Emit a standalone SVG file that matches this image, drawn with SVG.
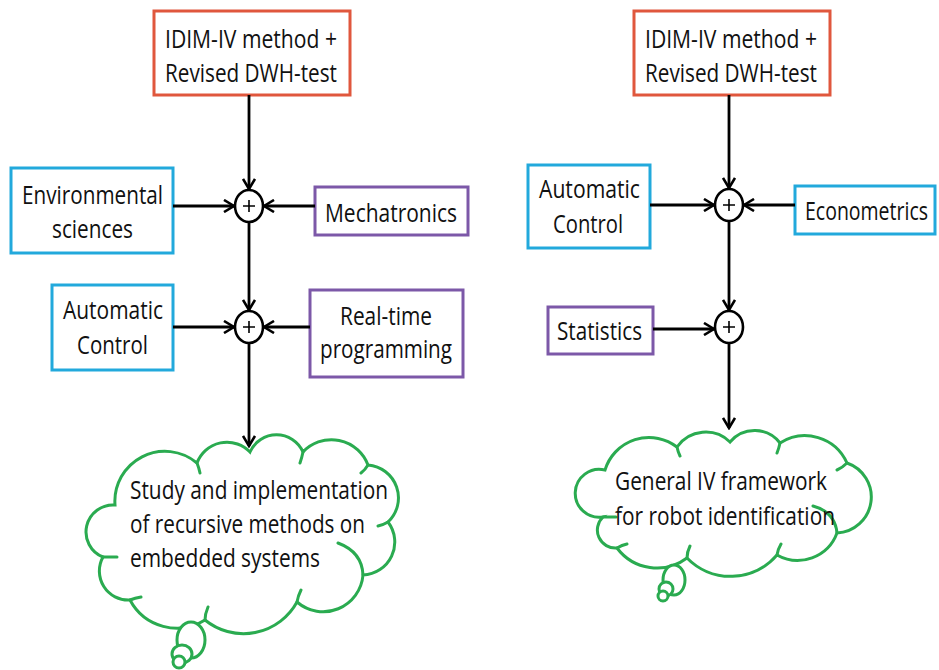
<svg xmlns="http://www.w3.org/2000/svg" width="939" height="670" viewBox="0 0 939 670">
<defs>
<style>
.box{fill:#fff;stroke-width:3}
.red{stroke:#e0573d}
.blue{stroke:#22a9dc}
.purple{stroke:#7c58a8}
.t{font-family:"Open Sans","Liberation Sans",sans-serif;font-size:26px;fill:#111}
.cloud{fill:#fff;stroke:#2aab50;stroke-width:3;stroke-linecap:round}
.tick{fill:none;stroke:#2aab50;stroke-width:3;stroke-linecap:round}
.con{fill:none;stroke:#000;stroke-width:2.8}
.sum{fill:#fff;stroke:#000;stroke-width:2.6}
.plus{stroke:#000;stroke-width:1.6}
</style>
<marker id="ah" viewBox="0 0 14 14" refX="12" refY="7" markerWidth="14" markerHeight="14" markerUnits="userSpaceOnUse" orient="auto">
<path d="M2,1 L12,7 L2,13" fill="none" stroke="#000" stroke-width="2.6"/>
</marker>
</defs>
<rect width="939" height="670" fill="#fff"/>

<g id="cloud-left">
<path class="cloud" d="M115,505 A50,50 0 0 1 197,463 A32,32 0 0 1 250,452 A29,29 0 0 1 303,452 A39,39 0 0 1 368,465 A33,33 0 0 1 388,522 A33,33 0 0 1 363,575 A40,40 0 0 1 297,602 A61,61 0 0 1 205,620 A53,53 0 0 1 130,600 A29,29 0 0 1 103,557 A27,27 0 0 1 115,505 Z"/>
<path class="tick" d="M197,463 Q199,468 200,473 M303,452 Q302,457 300,463 M368,465 Q365,470 361,473 M388,522 Q383,525 378,526 M363,575 Q362,552 338,543 M297,602 Q298,596 301,590 M205,620 Q205,614 208,607 M130,600 Q135,598 141,597 M103,557 L117,557"/>
<ellipse class="cloud" cx="191" cy="640" rx="14" ry="18"/>
<ellipse class="cloud" cx="182" cy="654" rx="10" ry="9"/>
<ellipse class="cloud" cx="179" cy="662" rx="6" ry="6"/>
<text class="t" x="130" y="499" textLength="258" lengthAdjust="spacingAndGlyphs">Study and implementation</text>
<text class="t" x="130" y="533" textLength="235" lengthAdjust="spacingAndGlyphs">of recursive methods on</text>
<text class="t" x="130" y="567" textLength="190" lengthAdjust="spacingAndGlyphs">embedded systems</text>
</g>

<g id="cloud-right">
<path class="cloud" d="M605,470 A46,46 0 0 1 677,447 A35,35 0 0 1 730,442 A32,32 0 0 1 780,443 A46,46 0 0 1 847,463 A36,36 0 0 1 837,533 A42,42 0 0 1 777,555 A61,61 0 0 1 687,558 A50,50 0 0 1 617,548 A18,18 0 0 1 603,517 A24,24 0 1 1 605,470 Z"/>
<path class="tick" d="M677,447 Q678,452 680,456 M780,443 Q779,448 777,453 M847,463 Q842,468 837,470 M837,533 Q835,512 813,506 M777,555 Q778,549 781,544 M687,558 Q687,552 690,546 M617,548 Q622,545 627,544 M603,517 L616,517"/>
<ellipse class="cloud" cx="674" cy="580" rx="11" ry="15"/>
<ellipse class="cloud" cx="666" cy="589" rx="7" ry="7"/>
<ellipse class="cloud" cx="663" cy="596" rx="5" ry="5"/>
<text class="t" x="615" y="490" textLength="212" lengthAdjust="spacingAndGlyphs">General IV framework</text>
<text class="t" x="615" y="525" textLength="220" lengthAdjust="spacingAndGlyphs">for robot identification</text>
</g>

<g id="idim-left">
<rect class="box red" x="154" y="11" width="196" height="84"/>
<text class="t" x="165" y="48" textLength="172" lengthAdjust="spacingAndGlyphs">IDIM-IV method +</text>
<text class="t" x="165" y="82" textLength="172" lengthAdjust="spacingAndGlyphs">Revised DWH-test</text>
</g>
<g id="env-sciences">
<rect class="box blue" x="11" y="168" width="162" height="85"/>
<text class="t" x="22" y="204" textLength="141" lengthAdjust="spacingAndGlyphs">Environmental</text>
<text class="t" x="52" y="238" textLength="81" lengthAdjust="spacingAndGlyphs">sciences</text>
</g>
<g id="mechatronics">
<rect class="box purple" x="315" y="187" width="153" height="48"/>
<text class="t" x="325" y="222" textLength="132" lengthAdjust="spacingAndGlyphs">Mechatronics</text>
</g>
<g id="auto-left">
<rect class="box blue" x="52" y="285" width="121" height="85"/>
<text class="t" x="63" y="319" textLength="100" lengthAdjust="spacingAndGlyphs">Automatic</text>
<text class="t" x="77" y="354" textLength="71" lengthAdjust="spacingAndGlyphs">Control</text>
</g>
<g id="realtime">
<rect class="box purple" x="310" y="290" width="153" height="87"/>
<text class="t" x="340" y="325" textLength="92" lengthAdjust="spacingAndGlyphs">Real-time</text>
<text class="t" x="320" y="358" textLength="132" lengthAdjust="spacingAndGlyphs">programming</text>
</g>
<g id="sum-left-1">
<ellipse class="sum" cx="249" cy="206" rx="14" ry="16"/>
<path class="plus" d="M243,206 H255 M249,200 V212"/>
</g>
<g id="sum-left-2">
<ellipse class="sum" cx="249" cy="327" rx="14" ry="16"/>
<path class="plus" d="M243,327 H255 M249,321 V333"/>
</g>

<g id="idim-right">
<rect class="box red" x="634" y="11" width="196" height="84"/>
<text class="t" x="645" y="48" textLength="172" lengthAdjust="spacingAndGlyphs">IDIM-IV method +</text>
<text class="t" x="645" y="82" textLength="172" lengthAdjust="spacingAndGlyphs">Revised DWH-test</text>
</g>
<g id="auto-right">
<rect class="box blue" x="528" y="165" width="122" height="83"/>
<text class="t" x="539" y="198" textLength="101" lengthAdjust="spacingAndGlyphs">Automatic</text>
<text class="t" x="553" y="233" textLength="70" lengthAdjust="spacingAndGlyphs">Control</text>
</g>
<g id="econometrics">
<rect class="box blue" x="795" y="186" width="140" height="48"/>
<text class="t" transform="translate(805,220) scale(0.75,1)" x="0" y="0">Econometrics</text>
</g>
<g id="statistics">
<rect class="box purple" x="548" y="307" width="105" height="47"/>
<text class="t" x="557" y="340" textLength="85" lengthAdjust="spacingAndGlyphs">Statistics</text>
</g>
<g id="sum-right-1">
<ellipse class="sum" cx="729" cy="205" rx="14" ry="16"/>
<path class="plus" d="M723,205 H735 M729,199 V211"/>
</g>
<g id="sum-right-2">
<ellipse class="sum" cx="729" cy="327" rx="14" ry="16"/>
<path class="plus" d="M723,327 H735 M729,321 V333"/>
</g>

<g id="connectors">
<line class="con" x1="249" y1="95" x2="249" y2="189" marker-end="url(#ah)"/>
<line class="con" x1="173" y1="206" x2="234" y2="206" marker-end="url(#ah)"/>
<line class="con" x1="315" y1="206" x2="264" y2="206" marker-end="url(#ah)"/>
<line class="con" x1="249" y1="222" x2="249" y2="310" marker-end="url(#ah)"/>
<line class="con" x1="173" y1="327" x2="234" y2="327" marker-end="url(#ah)"/>
<line class="con" x1="310" y1="327" x2="264" y2="327" marker-end="url(#ah)"/>
<line class="con" x1="249" y1="343" x2="249" y2="446" marker-end="url(#ah)"/>
<line class="con" x1="729" y1="95" x2="729" y2="188" marker-end="url(#ah)"/>
<line class="con" x1="650" y1="205" x2="714" y2="205" marker-end="url(#ah)"/>
<line class="con" x1="795" y1="205" x2="744" y2="205" marker-end="url(#ah)"/>
<line class="con" x1="729" y1="221" x2="729" y2="310" marker-end="url(#ah)"/>
<line class="con" x1="653" y1="329" x2="714" y2="329" marker-end="url(#ah)"/>
<line class="con" x1="729" y1="343" x2="729" y2="428" marker-end="url(#ah)"/>
</g>
</svg>
